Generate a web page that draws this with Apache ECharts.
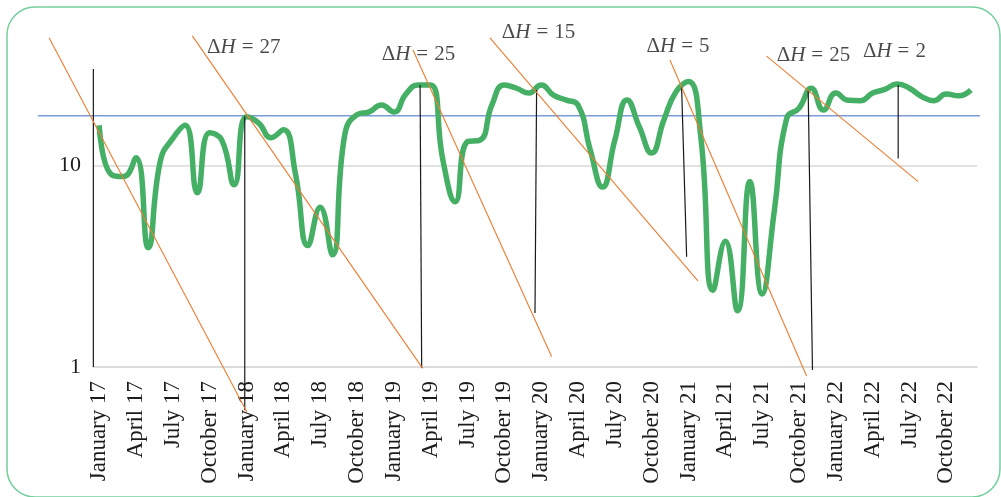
<!DOCTYPE html>
<html>
<head>
<meta charset="utf-8">
<script src="https://cdn.jsdelivr.net/npm/echarts@6/dist/echarts.min.js"></script>
<style>
html,body{margin:0;padding:0;background:#fff;}
#c{width:1001px;height:497px;}
</style>
</head>
<body>
<div id="c"></div>
<script>
// ---- data ----
const monthNames = ['January','February','March','April','May','June','July','August','September','October','November','December'];
const years = ['17','18','19','20','21','22'];
const categories = [];
years.forEach(y => monthNames.forEach(m => categories.push(m + ' ' + y)));

const seriesValues = [
  15.8, 9.0, 8.8, 10.9, 3.9, 10.6, 13.6, 15.8, 7.3, 14.5, 13.3, 8.0,
  17.4, 16.2, 13.7, 15.0, 9.0, 4.0, 6.2, 3.6, 14.1, 17.8, 18.4, 19.9,
  18.4, 22.6, 25.0, 25.0, 10.6, 6.6, 13.1, 13.3, 20.0, 25.0, 24.1, 22.8,
  25.0, 22.3, 21.1, 19.9, 11.9, 7.8, 13.3, 21.1, 15.5, 11.5, 16.8, 23.2,
  26.0, 13.9, 2.4, 4.2, 1.9, 8.3, 2.3, 6.0, 17.1, 19.2, 24.1, 18.8,
  22.8, 21.0, 20.9, 22.8, 23.8, 25.3, 24.1, 21.9, 20.9, 22.6, 22.1, 23.6
];

const yTickValues = [1, 10];

// reference (threshold) line: [x1, y1, x2, y2] in month-index / value units
const thresholdLine = [[-4.98, 17.6, 71.73, 17.6]];

// orange trend lines
const trendLines = [
  [-4.08, 42.9, 12.02, 0.6],
  [7.59, 43.8, 26.35, 0.985],
  [25.56, 37.3, 36.86, 1.125],
  [31.83, 42.8, 48.77, 2.67],
  [46.49, 33.3, 57.62, 0.902],
  [54.36, 34.8, 66.71, 8.3]
];

// black vertical markers
const markerLines = [
  [-0.47, 30.0, -0.47, 1.0],
  [11.86, 17.5, 11.86, 0.61],
  [26.14, 25.0, 26.27, 0.99],
  [35.63, 23.6, 35.5, 1.85],
  [47.44, 24.5, 47.85, 3.52],
  [57.75, 23.6, 58.1, 0.966],
  [65.08, 25.0, 65.08, 10.8]
];

// ΔH annotations
const annX = [8.79, 23.01, 32.79, 44.59, 55.18, 62.21];
const annY = [38.2, 35.6, 45.8, 39.0, 35.2, 36.5];
const annText = ['27', '25', '15', '5', '25', '2'];

// ---- chart ----
const serif = '"Liberation Serif", "DejaVu Serif", serif';
const ink = '#1c1c1c';
function segRender(color, width) {
  return function (params, api) {
    const p1 = api.coord([api.value(0), api.value(1)]);
    const p2 = api.coord([api.value(2), api.value(3)]);
    return {
      type: 'line',
      shape: { x1: p1[0], y1: p1[1], x2: p2[0], y2: p2[1] },
      style: { stroke: color, lineWidth: width, fill: null }
    };
  };
}

const chart = echarts.init(document.getElementById('c'), null, { renderer: 'canvas' });
chart.setOption({
  animation: false,
  backgroundColor: '#ffffff',
  graphic: [{
    type: 'rect',
    shape: { x: 7, y: 7, width: 993, height: 490, r: 28 },
    style: { fill: 'none', stroke: '#74cf9d', lineWidth: 1.5 },
    silent: true,
    z: -10
  }],
  grid: {
    left: 93, right: 24, top: -36.4, bottom: 130,
    containLabel: false,
    outerBoundsMode: 'none'
  },
  xAxis: [{
    type: 'category',
    data: categories,
    boundaryGap: true,
    axisLine: { show: true, lineStyle: { color: '#d9d9d9', width: 1.5 } },
    axisTick: { show: false },
    axisLabel: {
      interval: 2, rotate: 90, margin: 14,
      fontFamily: serif, fontSize: 23, color: ink
    },
    splitLine: { show: false }
  }, {
    type: 'value',
    min: -0.5, max: 71.5,
    show: false
  }],
  yAxis: {
    type: 'log',
    logBase: 10,
    min: 1, max: 100,
    axisLine: { show: false },
    axisTick: { show: false },
    splitLine: { show: true, lineStyle: { color: '#d9d9d9', width: 1.5 } },
    axisLabel: {
      margin: 12, fontFamily: serif, fontSize: 22, color: ink,
      formatter: v => (yTickValues.indexOf(Math.round(v)) >= 0 ? String(Math.round(v)) : '')
    }
  },
  series: [
    {
      type: 'custom',
      xAxisIndex: 1,
      renderItem: segRender('#7b9bd9', 1.6),
      data: thresholdLine,
      encode: { x: [0, 2], y: [1, 3] },
      clip: false,
      silent: true,
      z: 1
    },
    {
      type: 'line',
      xAxisIndex: 0,
      data: seriesValues,
      smooth: 0.5,
      symbol: 'none',
      lineStyle: { color: '#45b065', width: 5.5 },
      z: 3
    },
    {
      type: 'custom',
      xAxisIndex: 1,
      renderItem: segRender('#ed7d31', 1.1),
      data: trendLines,
      encode: { x: [0, 2], y: [1, 3] },
      clip: false,
      silent: true,
      z: 5
    },
    {
      type: 'custom',
      xAxisIndex: 1,
      renderItem: segRender('#1a1a1a', 1.2),
      data: markerLines,
      encode: { x: [0, 2], y: [1, 3] },
      clip: false,
      silent: true,
      z: 4
    },
    {
      type: 'scatter',
      xAxisIndex: 1,
      symbolSize: 0,
      clip: false,
      silent: true,
      z: 6,
      data: annX.map((x, i) => ({ value: [x, annY[i]], name: annText[i] })),
      label: {
        show: true,
        position: 'right',
        distance: 0,
        formatter: p => '{d|Δ}{h|H}{e|=}{d|' + p.name + '}',
        rich: {
          d: { fontFamily: serif, fontSize: 21, color: ink },
          h: { fontFamily: serif, fontSize: 21, fontStyle: 'italic', color: ink },
          e: { fontFamily: serif, fontSize: 21, color: ink, padding: [0, 6, 0, 6] }
        }
      }
    }
  ]
});
</script>
</body>
</html>
